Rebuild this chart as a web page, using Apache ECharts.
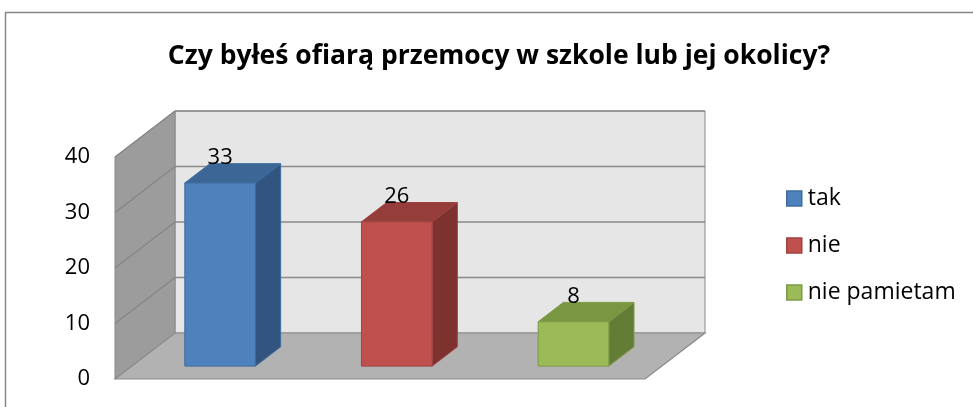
<!DOCTYPE html>
<html><head><meta charset="utf-8">
<script src="https://cdn.jsdelivr.net/npm/echarts@6/dist/echarts.min.js"></script>
<style>html,body{margin:0;padding:0;background:#fff}#c{width:973px;height:407px}</style>
</head><body><div id="c"></div>
<script>
const titleText = 'Czy byłeś ofiarą przemocy w szkole lub jej okolicy?';
const categories = ['tak', 'nie', 'nie pamietam'];
const values = [33, 26, 8];
const yTicks = [0, 10, 20, 30, 40];
const faceColors = ['#4F81BD', '#C0504D', '#9BBB59'];
const topColors = ['#3B6696', '#943D3B', '#799641'];
const sideColors = ['#31557F', '#7D3230', '#647D36'];
const edgeColors = ['#3E6C9E', '#9E4340', '#7C9A45'];

const FONT = '"Open Sans", sans-serif';
const DEPTH = { dx: 60, dy: -46 };
const BAR_FRONT = 0.28, BAR_BACK = 0.70, BAR_W = 0.40;

const chart = echarts.init(document.getElementById('c'), null, { renderer: 'canvas' });

function wallsRender(params, api) {
  const cs = params.coordSys;
  const x0 = cs.x, x1 = cs.x + cs.width;
  const yTop = api.coord([0, yTicks[yTicks.length - 1]])[1];
  const yBot = api.coord([0, yTicks[0]])[1];
  const dx = DEPTH.dx, dy = DEPTH.dy;
  const lineC = '#8A8A8A';
  const children = [];
  children.push({ type: 'polygon', shape: { points: [[x0 + dx, yTop + dy], [x1 + dx, yTop + dy], [x1 + dx, yBot + dy], [x0 + dx, yBot + dy]] },
    style: { fill: '#E6E6E6', stroke: lineC, lineWidth: 1 } });
  children.push({ type: 'polygon', shape: { points: [[x0, yTop], [x0 + dx, yTop + dy], [x0 + dx, yBot + dy], [x0, yBot]] },
    style: { fill: '#9C9C9C', stroke: lineC, lineWidth: 1 } });
  children.push({ type: 'polygon', shape: { points: [[x0, yBot], [x0 + dx, yBot + dy], [x1 + dx, yBot + dy], [x1, yBot]] },
    style: { fill: '#B2B2B2', stroke: lineC, lineWidth: 1.2 } });
  yTicks.forEach(function (v) {
    if (v === yTicks[0]) return;
    const y = api.coord([0, v])[1];
    children.push({ type: 'line', shape: { x1: x0 + dx, y1: y + dy, x2: x1 + dx, y2: y + dy }, style: { stroke: lineC, lineWidth: 1.5 } });
    children.push({ type: 'line', shape: { x1: x0, y1: y, x2: x0 + dx, y2: y + dy }, style: { stroke: '#858585', lineWidth: 1.2 } });
  });
  return { type: 'group', children: children };
}

function makeBarRender(idx) {
  return function (params, api) {
    const cat = api.value(0), val = api.value(1);
    const band = api.size([1, 0])[0];
    const w = band * BAR_W;
    const c = api.coord([cat, val]);
    const b = api.coord([cat, 0]);
    const fx = BAR_FRONT * DEPTH.dx, fy = BAR_FRONT * DEPTH.dy;
    const sx = (BAR_BACK - BAR_FRONT) * DEPTH.dx, sy = (BAR_BACK - BAR_FRONT) * DEPTH.dy;
    const L = c[0] - w / 2 + fx, R = c[0] + w / 2 + fx;
    const T = c[1] + fy, B = b[1] + fy;
    const ec = edgeColors[idx];
    return { type: 'group', children: [
      { type: 'polygon', shape: { points: [[R, T], [R + sx, T + sy], [R + sx, B + sy], [R, B]] }, style: { fill: sideColors[idx], stroke: ec, lineWidth: 1 } },
      { type: 'polygon', shape: { points: [[L, T], [L + sx, T + sy], [R + sx, T + sy], [R, T]] }, style: { fill: topColors[idx], stroke: ec, lineWidth: 1 } },
      { type: 'rect', shape: { x: L, y: T, width: R - L, height: B - T }, style: { fill: faceColors[idx], stroke: ec, lineWidth: 1 } },
      { type: 'text', style: { text: String(val), x: (L + R) / 2, y: T + sy - 6, align: 'center', verticalAlign: 'middle',
        fontSize: 22, fontFamily: FONT, fill: '#000' } }
    ] };
  };
}

const series = [{
  type: 'custom', name: '__walls', z: 1, silent: true,
  renderItem: wallsRender, data: [[0, 0]]
}];
categories.forEach(function (name, i) {
  series.push({
    type: 'custom', name: name, z: 2,
    itemStyle: { color: faceColors[i] },
    renderItem: makeBarRender(i),
    data: [[i, values[i]]]
  });
});

chart.setOption({
  animation: false,
  backgroundColor: '#fff',
  graphic: [{ type: 'rect', shape: { x: 5.5, y: 12.5, width: 1100, height: 500 }, style: { fill: 'none', stroke: '#868686', lineWidth: 1.5 }, z: 0 }],
  title: { text: titleText, left: 494, top: 38, textAlign: 'center',
    textStyle: { fontFamily: FONT, fontWeight: 'bold', fontSize: 26.5, color: '#000' } },
  legend: {
    orient: 'vertical', left: 786, top: 187, padding: 0, itemWidth: 15, itemHeight: 15, itemGap: 24, icon: 'rect',
    textStyle: { fontFamily: FONT, fontSize: 23, color: '#000', padding: [0, 0, 0, 1] },
    data: categories.map(function (n, i) { return { name: n, itemStyle: { color: faceColors[i], borderColor: edgeColors[i], borderWidth: 1.5 } }; })
  },
  grid: { left: 115, top: 157, width: 530, height: 222 },
  xAxis: { type: 'category', data: categories, axisLine: { show: false }, axisTick: { show: false }, axisLabel: { show: false }, splitLine: { show: false } },
  yAxis: { type: 'value', min: yTicks[0], max: yTicks[yTicks.length - 1], interval: 10,
    axisLine: { show: false }, axisTick: { show: false }, splitLine: { show: false },
    axisLabel: { margin: 25, fontSize: 22, fontFamily: FONT, color: '#000' } },
  series: series
});
</script></body></html>
